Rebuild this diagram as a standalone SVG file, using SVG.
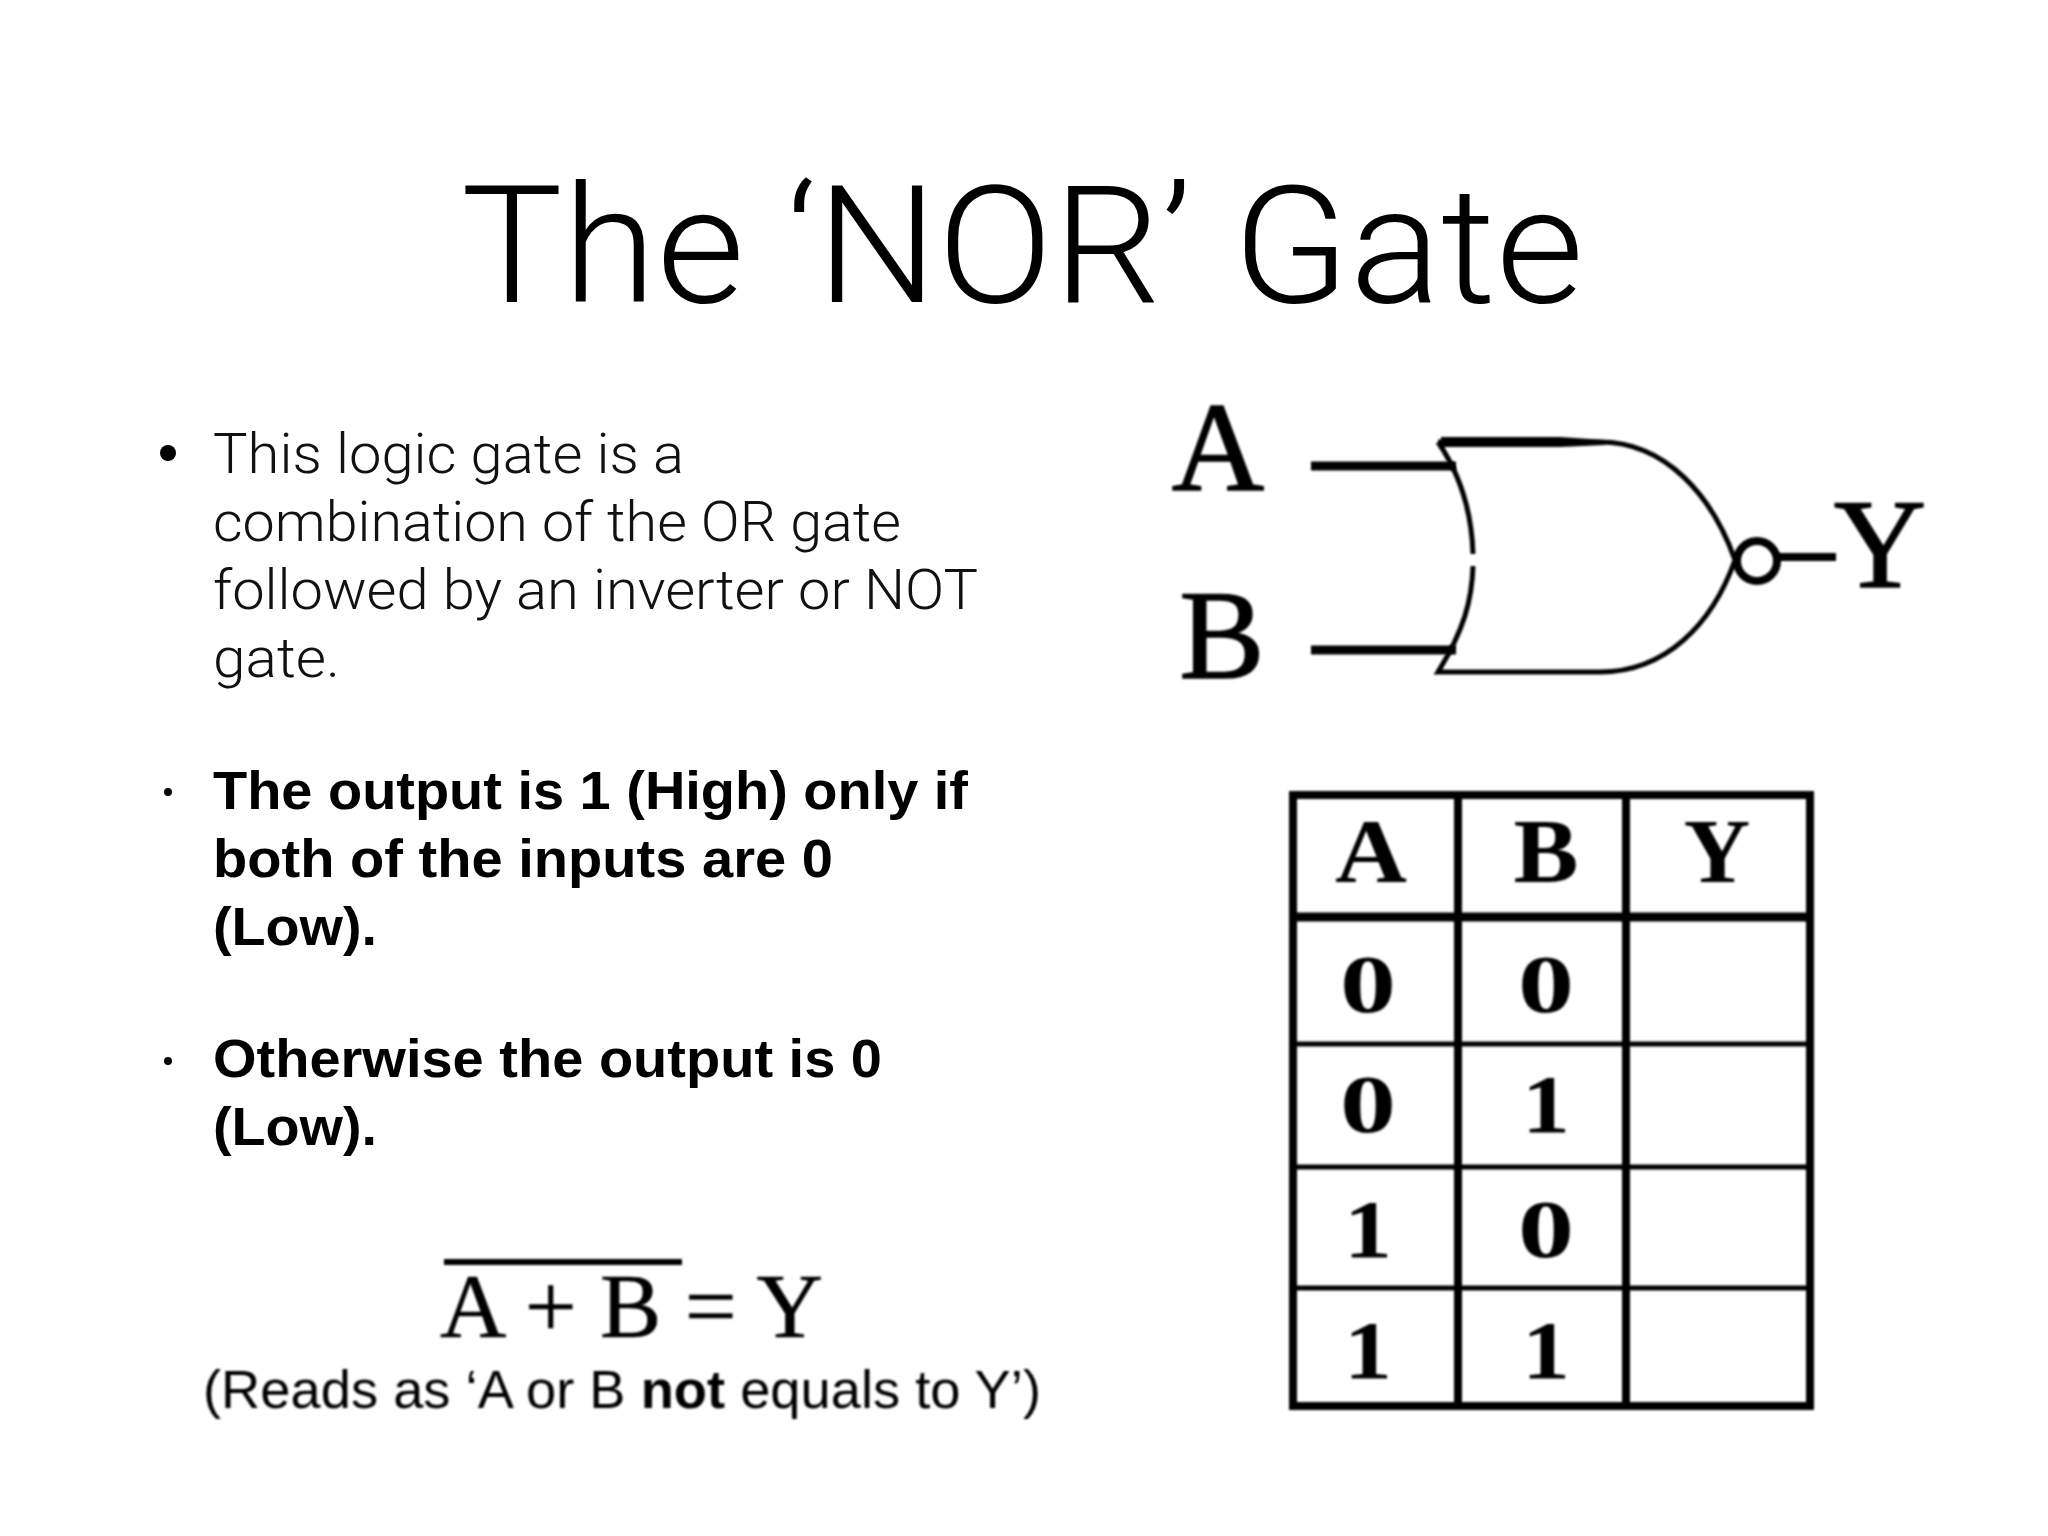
<svg xmlns="http://www.w3.org/2000/svg" width="2048" height="1536" viewBox="0 0 2048 1536">
<style>
.title{font-family:Roboto,"Liberation Sans",sans-serif;font-weight:300;font-size:164px;fill:#000}
.body{font-family:Roboto,"Liberation Sans",sans-serif;font-weight:300;font-size:55px;fill:#111}
.bold{font-family:"Liberation Sans",Arial,sans-serif;font-weight:700;font-size:54px;fill:#000}
.serif{font-family:"Liberation Serif",serif;fill:#000;text-anchor:middle}
.lab{font-size:128px;stroke:#000;stroke-width:1.5px}
.th{font-size:92px;font-weight:700}
.td{font-size:82px;font-weight:700}
.cap{font-family:"Liberation Sans",sans-serif;font-size:53px;fill:#000}
.w{fill:none;stroke:#000}
</style>
<defs><filter id="soft" x="-5%" y="-5%" width="110%" height="110%"><feGaussianBlur stdDeviation="1.1"/></filter></defs>
<rect width="2048" height="1536" fill="#fff"/>
<text id="title" class="title" x="461" y="302" textLength="1123" lengthAdjust="spacingAndGlyphs">The ‘NOR’ Gate</text>
<g id="bullets">
<circle cx="168" cy="453" r="8" fill="#000"/>
<circle cx="168" cy="792" r="4" fill="#000"/>
<circle cx="168" cy="1061" r="4" fill="#000"/>
<text class="body" x="213" y="473" textLength="471" lengthAdjust="spacingAndGlyphs">This logic gate is a</text>
<text class="body" x="213" y="541" textLength="688" lengthAdjust="spacingAndGlyphs">combination of the OR gate</text>
<text class="body" x="213" y="609" textLength="765" lengthAdjust="spacingAndGlyphs">followed by an inverter or NOT</text>
<text class="body" x="213" y="677" textLength="127" lengthAdjust="spacingAndGlyphs">gate.</text>
<text class="bold" x="213" y="809" textLength="755" lengthAdjust="spacingAndGlyphs">The output is 1 (High) only if</text>
<text class="bold" x="213" y="877" textLength="620" lengthAdjust="spacingAndGlyphs">both of the inputs are 0</text>
<text class="bold" x="213" y="945" textLength="164" lengthAdjust="spacingAndGlyphs">(Low).</text>
<text class="bold" x="213" y="1077" textLength="669" lengthAdjust="spacingAndGlyphs">Otherwise the output is 0</text>
<text class="bold" x="213" y="1145" textLength="164" lengthAdjust="spacingAndGlyphs">(Low).</text>
</g>
<g id="gate" filter="url(#soft)">
<text class="serif lab" x="1218" y="490">A</text>
<text class="serif lab" x="1222" y="678">B</text>
<text class="serif lab" x="1880" y="587">Y</text>
<path class="w" stroke-width="5" d="M1438 442 H1600 C1665 442 1712 495 1735 560 C1712 625 1665 672 1600 672 H1438 C1464 630 1472 600 1473 566"/>
<path class="w" stroke-width="5" d="M1438 442 C1464 480 1472 520 1473 554"/>
<path d="M1441 437 H1560 L1605 440 V445 L1560 447 H1441 Z" fill="#000"/>
<circle class="w" stroke-width="8" cx="1757" cy="561" r="20"/>
</g>
<g id="connectors" filter="url(#soft)">
<path class="w" stroke-width="9" d="M1311 466 H1456"/>
<path class="w" stroke-width="9" d="M1311 650 H1456"/>
<path class="w" stroke-width="8" d="M1777 557 H1836"/>
</g>
<g id="truth-table" filter="url(#soft)">
<rect class="w" stroke-width="8" x="1300" y="802" width="517" height="611" transform="translate(-7 -7)"/>
<path class="w" stroke-width="8" d="M1458 795 V1406 M1626 795 V1406"/>
<path class="w" stroke-width="9" d="M1293 917 H1810"/>
<path class="w" stroke-width="5" d="M1293 1044 H1810 M1293 1167 H1810 M1293 1288 H1810"/>
<text class="serif th" x="1371" y="882" textLength="72" lengthAdjust="spacingAndGlyphs">A</text>
<text class="serif th" x="1546" y="882" textLength="65" lengthAdjust="spacingAndGlyphs">B</text>
<text class="serif th" x="1717" y="882">Y</text>
<text class="serif td" x="1368" y="1012" textLength="56" lengthAdjust="spacingAndGlyphs">0</text>
<text class="serif td" x="1546" y="1012" textLength="56" lengthAdjust="spacingAndGlyphs">0</text>
<text class="serif td" x="1368" y="1132" textLength="56" lengthAdjust="spacingAndGlyphs">0</text>
<text class="serif td" x="1546" y="1132" textLength="48" lengthAdjust="spacingAndGlyphs">1</text>
<text class="serif td" x="1368" y="1257" textLength="48" lengthAdjust="spacingAndGlyphs">1</text>
<text class="serif td" x="1546" y="1257" textLength="56" lengthAdjust="spacingAndGlyphs">0</text>
<text class="serif td" x="1368" y="1378" textLength="48" lengthAdjust="spacingAndGlyphs">1</text>
<text class="serif td" x="1546" y="1378" textLength="48" lengthAdjust="spacingAndGlyphs">1</text>
</g>
<g id="formula" filter="url(#soft)">
<path class="w" stroke-width="6" d="M444 1262 H682"/>
<text class="serif" x="440" y="1337" font-size="92" stroke="#000" stroke-width="0.6" style="text-anchor:start" textLength="383" lengthAdjust="spacing">A + B = Y</text>
<text class="cap" x="203" y="1408" textLength="838" lengthAdjust="spacingAndGlyphs">(Reads as ‘A or B <tspan font-weight="700">not</tspan> equals to Y’)</text>
</g>
</svg>
